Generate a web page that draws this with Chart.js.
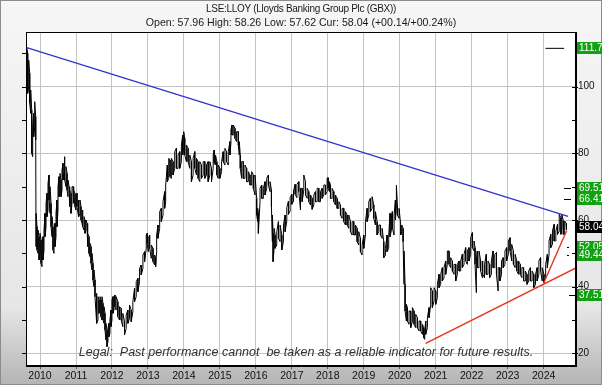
<!DOCTYPE html>
<html><head><meta charset="utf-8">
<script src="https://cdn.jsdelivr.net/npm/chart.js@4/dist/chart.umd.min.js"></script>
<style>html,body{margin:0;padding:0;background:#fff;overflow:hidden}canvas{display:block}</style>
</head><body>
<canvas id="c" width="602" height="385"></canvas>
<script>
const titleText = "LSE:LLOY (Lloyds Banking Group Plc (GBX))";
const subtitleText = "Open: 57.96 High: 58.26 Low: 57.62 Cur: 58.04 (+00.14/+00.24%)";
const legalText = "Legal:  Past performance cannot  be taken as a reliable indicator for future results.";

const yearTicks = [2010,2011,2012,2013,2014,2015,2016,2017,2018,2019,2020,2021,2022,2023,2024];
const yTickValues = [20,30,40,50,60,70,80,90,100];
const yMajorTicks = [20,40,60,80,100];
const leftTickValues = [20,30,40,50,60,70,80,90,100,110];

const priceDates = [
2009.630,2009.657,2009.685,2009.713,2009.741,2009.769,2009.796,2009.824,2009.852,2009.880,
2009.889,2009.917,2009.944,2009.972,2010.000,2010.028,2010.056,2010.083,2010.111,2010.139,
2010.167,2010.194,2010.222,2010.250,2010.278,2010.306,2010.333,2010.361,2010.389,2010.417,
2010.444,2010.472,2010.500,2010.528,2010.556,2010.583,2010.611,2010.639,2010.667,2010.694,
2010.722,2010.750,2010.778,2010.806,2010.833,2010.861,2010.889,2010.917,2010.944,2010.972,
2011.000,2011.028,2011.056,2011.083,2011.111,2011.139,2011.167,2011.194,2011.222,2011.250,
2011.278,2011.306,2011.333,2011.361,2011.389,2011.417,2011.444,2011.472,2011.500,2011.528,
2011.556,2011.583,2011.611,2011.639,2011.667,2011.694,2011.722,2011.750,2011.778,2011.806,
2011.833,2011.861,2011.889,2011.917,2011.944,2011.972,2012.000,2012.028,2012.056,2012.083,
2012.116,2012.163,2012.209,2012.256,2012.302,2012.349,2012.395,2012.442,2012.488,2012.535,
2012.581,2012.628,2012.674,2012.721,2012.767,2012.814,2012.860,2012.907,2012.953,2012.980,
2013.009,2013.047,2013.093,2013.140,2013.186,2013.214,2013.242,2013.279,2013.326,2013.372,
2013.419,2013.465,2013.493,2013.540,2013.577,2013.614,2013.651,2013.698,2013.744,2013.791,
2013.837,2013.884,2013.930,2013.967,2013.995,2014.023,2014.070,2014.116,2014.163,2014.209,
2014.256,2014.302,2014.349,2014.395,2014.442,2014.488,2014.535,2014.581,
2014.628,2014.674,2014.721,2014.767,2014.814,2014.842,2014.879,2014.916,2014.953,2015.000,
2015.047,2015.093,2015.140,2015.186,2015.233,2015.279,2015.307,2015.335,2015.372,2015.419,
2015.465,2015.512,2015.540,2015.567,2015.605,2015.651,2015.698,2015.744,2015.791,2015.837,
2015.884,2015.930,2015.977,2016.023,2016.051,2016.070,2016.116,2016.163,2016.209,2016.256,
2016.302,2016.349,2016.395,2016.433,2016.460,2016.479,2016.507,2016.535,2016.581,2016.628,
2016.674,2016.721,2016.767,2016.814,2016.860,2016.907,2016.953,2017.000,2017.047,2017.093,
2017.140,2017.194,2017.241,2017.287,2017.333,2017.380,2017.426,2017.472,2017.519,2017.565,
2017.611,2017.657,2017.704,2017.750,2017.796,2017.843,2017.889,2017.935,2017.981,2018.009,
2018.046,2018.074,2018.120,2018.167,2018.213,2018.259,2018.306,2018.352,2018.398,2018.444,
2018.491,2018.537,2018.583,2018.630,2018.676,2018.722,2018.769,2018.815,2018.861,2018.907,
2018.954,2019.000,2019.046,2019.093,2019.139,2019.185,2019.231,2019.278,2019.324,2019.370,
2019.417,2019.463,2019.509,2019.556,2019.602,2019.648,2019.694,
2019.731,2019.769,2019.796,2019.843,2019.880,2019.907,2019.935,2019.981,2020.028,2020.056,
2020.093,2020.120,2020.148,2020.185,2020.213,2020.259,2020.306,2020.352,2020.398,2020.444,
2020.491,2020.537,2020.583,2020.630,2020.667,2020.694,2020.722,2020.769,2020.815,2020.861,
2020.907,2020.954,2021.000,2021.046,2021.093,2021.139,2021.185,2021.231,2021.278,2021.324,
2021.370,2021.417,2021.463,2021.509,2021.556,2021.602,2021.648,2021.694,2021.741,2021.787,
2021.833,2021.880,2021.926,2021.972,2022.019,2022.065,2022.093,2022.130,2022.157,2022.204,
2022.250,2022.296,
2022.311,2022.358,2022.406,2022.453,2022.500,2022.547,2022.594,2022.642,2022.689,2022.736,
2022.783,2022.830,2022.877,2022.925,2022.972,2023.019,2023.066,2023.113,2023.160,2023.208,
2023.255,2023.302,2023.349,2023.396,2023.443,2023.491,2023.538,2023.585,2023.632,2023.679,
2023.726,2023.774,2023.821,2023.868,2023.915,2023.962,2024.009,2024.057,2024.104,2024.151,
2024.198,2024.245,2024.292,2024.340,2024.387,2024.434,2024.481,2024.509,2024.547,2024.585,
2024.623,2024.640
];
const priceLow = [
100,98,100,95,92,80,79,85,88,84,
52,51,50,48,50,47,46,48,51,55,
58,61,63,66,62,58,55,51,50,52,
55,58,63,67,68,67,69,72,74,72,
70,69,67,65,64,62,65,66,65,64,
63,64,62,61,62,60,59,58,57,56,
57,55,52,50,49,47,45,42,40,37,
32,29,30,32,33,31,30,30,29,27,
24,22,23.5,25,26,28,30,32,33,34,
33,31,30,30,28,25.5,27.5,29,30.5,29.5,
32.5,35.5,37,38.5,41.5,43.5,45.5,47.5,51.5,53,
50.5,51.5,48.5,47.5,46.5,46,50.5,54.5,57.5,59.5,
61.5,63.5,65.5,71.5,72.5,73,72.5,73.5,75.5,75.5,
75.5,75.5,77.5,79.5,82,79.5,77.5,77.5,75.5,71.5,
73.5,75.5,73.5,72.5,71.5,72.5,73.5,72.5,
73.5,71.5,73.5,71.5,75.5,77,76.5,73.5,72.5,72.5,
74.5,77.5,76.5,77.5,76.5,79.5,83,85.5,85.5,84.5,
83.5,82.5,79.5,75.5,72.5,72.5,72.5,71.5,71.5,70.5,
70.5,69.5,67.5,61.5,59.5,56,65.5,66.5,66.5,67.5,
69.5,70.5,68.5,64,53.5,47.5,51.5,51.5,52.5,54.5,
53.5,51,53.5,56.5,59.7,61.7,62.7,64.7,65.7,67.7,
66.7,68.5,63,65.5,69,67.5,66.5,65.5,64.5,63.2,
64.5,65.5,65.5,65.5,65.5,66.5,67.5,67.5,68.5,69.5,
68.5,66.5,66.5,65.5,64.5,63.5,63.5,61.5,60.5,59.5,
58.5,58.5,57.5,56.5,55.5,55.5,55.5,53.5,52.5,50.5,
49.5,51.5,55.5,59.5,61.5,62.5,63.5,60.5,58.5,55.5,
56.5,55.5,54.5,48.7,49.5,50.5,51.5,
55,57,57.5,55.5,60,64,61.5,60.5,55.5,56.5,
53.5,40.7,32.7,29.7,29.7,28.7,27.7,29.7,28.7,27.7,
27.7,26.7,26.7,25.7,24.7,24.2,25.7,27.7,30.7,34.7,
33.7,35.7,34.7,36.7,39.7,40.7,41.7,42.7,43.7,46.7,
46.7,45.7,44.7,43.7,41.7,43.7,44.7,44.7,45.7,46.7,
47.7,46.7,47.7,49.7,51.7,50.7,46.7,38.2,45.7,45.7,
44.7,42.7,
43.7,42.7,43.7,43.7,42.7,43.7,45.7,45.7,43.7,38.7,
41.7,43.7,45.7,46.7,47.7,49.7,50.7,47.7,46.7,45.7,
44.7,43.7,43.7,42.7,41.7,41.7,40.7,41.7,41.7,41.7,
39.7,40.7,41.7,43.7,44.7,41.7,41.2,42.7,45.7,49.7,
51.7,52.7,53.7,53.7,55.7,56.7,55.7,58,55.7,55.7,
57,57.62
];
const priceHigh = [
111.7,110,108,104,99,93,88,92,95.5,91,
62,58,57,55,56,54,52,55,57,62,
65,68,71,73.5,70,65,61,58,56,59,
62,66,70,73,74,72,75,77,79,77,
76,74,72,70,69,68,70,70,69,68,
67,68,66,65,66,64,63,62,61,60,
60,59,56,55,53,52,50,47,45,42,
38,36,37,36,37,36,37,35,34,32,
29,27,27.5,29,30,33,36,37,37,37.5,
37,35.5,34,33.5,32,29.5,31.5,33,34.5,33,
35.5,39.5,41.5,42.5,45.5,46.5,49.5,50.5,55.5,56,
54.5,55.5,52.5,51.5,49.5,48.5,55.5,58.5,62.5,63.5,
65.5,68.5,70.5,76.5,78.5,78,78.5,77.5,80.5,81.5,
79.5,80.5,82.5,85.5,86.5,84.5,82.5,81.5,79.5,77.5,
78.5,80.5,78.5,77.5,77.5,76.5,77.5,77.5,
76.5,77.5,77.5,75.5,79.5,81,79.5,77.5,76.5,75.5,
77.5,80.5,81.5,80.5,80.5,83.5,87,88.5,88.5,87.5,
86.5,86.5,83.5,79.5,77.5,77.5,76.5,75.5,74.5,73.5,
74.5,73.5,73.5,66.5,63.5,62,69.5,70.5,69.5,71.5,
72.5,73.5,71.5,69,61.5,56,57.5,55.5,56.5,59.5,
58.5,55.5,58.5,61.5,63.7,65.7,66.7,67.7,68.7,70.7,
70.7,71.5,69.5,69.5,73.5,71.5,69.5,68.5,67.5,66.5,
67.5,68.5,69.5,69.5,68.5,69.5,70.5,70.5,72.5,72.7,
71.5,70.5,69.5,68.5,67.5,66.5,65.5,64.5,63.5,63.5,
62.5,61.5,61.5,59.5,59.5,59.5,58.5,57.5,56.5,54.5,
52.5,55.5,59.5,63.5,65.5,66.5,67,64.5,62.5,59.5,
58.5,58.5,57.5,53.5,51.5,55.5,55.5,
62,61.5,62.5,61.5,66,70.4,64.5,63.5,58.5,58.5,
57.5,50.7,40.7,34.7,33.7,32.7,32.7,33.7,32.7,31.7,
30.7,29.7,29.7,28.7,27.7,26.7,29.7,30.7,33.7,39.7,
38.7,39.7,38.7,40.7,43.7,43.7,45.7,45.7,47.7,50.7,
50.7,48.7,47.7,46.7,46.7,46.7,47.7,47.7,49.7,49.7,
51.7,50.7,51.7,54.7,56.2,53.7,51.7,47.7,50.7,50.7,
47.7,46.7,
47.7,46.7,49.7,47.7,46.7,47.7,50.7,49.7,50.2,45.7,
45.7,47.7,48.7,50.7,51.7,53.7,54.7,52.7,50.7,49.7,
47.7,47.7,46.7,45.7,45.7,44.7,43.7,44.7,45.7,44.7,
43.7,43.7,45.7,47.7,48.7,45.7,43.7,46.7,49.7,53.7,
55.7,56.7,58.7,56.7,58.7,61.7,60.7,61.7,59.7,59.7,
59,58.26
];

const downTrendX = [2009.63, 2024.68];
const downTrendY = [111.7, 61.1];
const upTrendLongX = [2020.72, 2024.9];
const upTrendLongY = [23.0, 45.6];
const upTrendShortX = [2024.0, 2024.64];
const upTrendShortY = [41.05, 56.8];
const targetMarkX = [2024.05, 2024.57];
const targetMarkY = [111.5, 111.5];

const levelLabels = ["111.7","69.51","66.41","52.05","49.44","37.51","58.04"];
const levelValues = [111.7, 69.51, 66.41, 52.05, 49.44, 37.51, 58.04];
const currentPrice = 58.04;

const FONT = "'Liberation Sans', Arial, sans-serif";

const pricePoints = [];
priceDates.forEach((d, i) => {
  const a = i % 2 === 0 ? priceLow[i] : priceHigh[i];
  const b = i % 2 === 0 ? priceHigh[i] : priceLow[i];
  pricePoints.push({x: d, y: a}, {x: d, y: b});
});
const toPts = (xs, ys) => xs.map((x, i) => ({x, y: ys[i]}));

const framePlugin = {
  id: 'frame',
  beforeDraw(chart) {
    const {ctx, chartArea: a, width: W, height: H} = chart;
    ctx.save();
    const g = ctx.createLinearGradient(0, 0, 0, H);
    g.addColorStop(0, '#f6f6f6');
    g.addColorStop(0.8, '#e6e6e6');
    g.addColorStop(1, '#b4b4b4');
    ctx.fillStyle = g;
    ctx.fillRect(0, 0, W, H);
    ctx.strokeStyle = '#8c8c8c';
    ctx.lineWidth = 1;
    ctx.strokeRect(0.5, 0.5, W - 1, H - 1);
    ctx.fillStyle = '#ffffff';
    ctx.fillRect(a.left, a.top, a.right - a.left, a.bottom - a.top);
    ctx.restore();
  },
  afterDatasetsDraw(chart) {
    const {ctx, chartArea: a} = chart;
    ctx.save();
    ctx.font = "italic 12.5px " + FONT;
    ctx.fillStyle = '#333333';
    ctx.textAlign = 'center';
    ctx.textBaseline = 'middle';
    ctx.fillText(legalText, 306, a.bottom - 13);
    ctx.restore();
  },
  afterDraw(chart) {
    const {ctx, chartArea: a, width: W} = chart;
    const ys = chart.scales.y;
    ctx.save();
    ctx.strokeStyle = '#000';
    ctx.lineWidth = 1;
    ctx.strokeRect(a.left + 0.5, a.top + 0.5, a.right - a.left - 1, a.bottom - a.top - 1);
    leftTickValues.forEach(v => {
      const y = Math.round(ys.getPixelForValue(v)) + 0.5;
      ctx.beginPath(); ctx.moveTo(a.left - 4, y); ctx.lineTo(a.left, y); ctx.stroke();
    });
    yTickValues.forEach(v => {
      const y = Math.round(ys.getPixelForValue(v)) + 0.5;
      const major = yMajorTicks.includes(v);
      ctx.beginPath(); ctx.moveTo(a.right - 4, y); ctx.lineTo(a.right + (major ? 2 : 0), y); ctx.stroke();
    });
    levelValues.forEach((v, i) => {
      if (v === currentPrice || v > 100) return;
      const y = Math.round(ys.getPixelForValue(v)) + 0.5;
      ctx.beginPath();
      if (v > 60) { ctx.moveTo(a.right - 12, y); ctx.lineTo(a.right - 5, y); }
      else if (v > 45) { ctx.moveTo(a.right - 9, y); ctx.lineTo(a.right - 7, y); }
      else { ctx.moveTo(a.right - 7, y); ctx.lineTo(a.right, y); }
      ctx.stroke();
    });
    ctx.font = "10px " + FONT;
    ctx.textBaseline = 'middle';
    ctx.textAlign = 'left';
    levelValues.forEach((v, i) => {
      const y = Math.round(ys.getPixelForValue(v));
      ctx.fillStyle = v === currentPrice ? '#000000' : '#14a014';
      ctx.fillRect(a.right + 1, y - 6, W - a.right - 1, 12);
      ctx.fillStyle = '#ffffff';
      ctx.fillText(levelLabels[i], a.right + 3, y + 0.5);
    });
    ctx.fillStyle = '#1a1a1a';
    ctx.textAlign = 'center';
    ctx.font = "10px " + FONT;
    try { ctx.letterSpacing = '-0.3px'; } catch (e) {}
    ctx.fillText(titleText, W / 2, 9);
    try { ctx.letterSpacing = '0px'; } catch (e) {}
    ctx.font = "10.6px " + FONT;
    ctx.fillText(subtitleText, W / 2, 23);
    ctx.restore();
  }
};

new Chart(document.getElementById('c').getContext('2d'), {
  type: 'line',
  data: {
    datasets: [
      {data: toPts(downTrendX, downTrendY), borderColor: '#3434d0', borderWidth: 1.4, pointRadius: 0},
      {data: toPts(upTrendLongX, upTrendLongY), borderColor: '#e8321e', borderWidth: 1.4, pointRadius: 0},
      {data: toPts(upTrendShortX, upTrendShortY), borderColor: '#e8321e', borderWidth: 1.4, pointRadius: 0},
      {data: toPts(targetMarkX, targetMarkY), borderColor: '#000000', borderWidth: 1, pointRadius: 0},
      {data: pricePoints, borderColor: '#000000', borderWidth: 1, pointRadius: 0, tension: 0}
    ]
  },
  options: {
    responsive: false,
    animation: false,
    devicePixelRatio: 1,
    layout: {padding: {left: 26, top: 32, right: 0, bottom: 0}},
    plugins: {legend: {display: false}, tooltip: {enabled: false}, title: {display: false}},
    elements: {line: {tension: 0}},
    scales: {
      x: {
        type: 'linear', min: 2009.61, max: 2024.9,
        afterBuildTicks: s => { s.ticks = yearTicks.map(v => ({value: v})); },
        afterFit: s => { s.height = 19; },
        ticks: {callback: v => String(v), color: '#111', font: {family: FONT, size: 10.5}, maxRotation: 0, autoSkip: false, padding: 1},
        grid: {color: '#c4c4c4', tickLength: 3, tickColor: '#555', lineWidth: 1},
        border: {color: '#000'}
      },
      y: {
        type: 'linear', position: 'right', min: 16.2, max: 116.4,
        afterBuildTicks: s => { s.ticks = yTickValues.map(v => ({value: v})); },
        afterFit: s => { s.width = 26; },
        ticks: {callback: v => yMajorTicks.includes(v) ? String(v) : '', color: '#111', font: {family: FONT, size: 10}, padding: 2},
        grid: {color: c => yMajorTicks.includes(c.tick && c.tick.value) ? '#c4c4c4' : 'rgba(0,0,0,0)', drawTicks: false},
        border: {color: '#000'}
      }
    }
  },
  plugins: [framePlugin]
});
</script>
</body></html>
